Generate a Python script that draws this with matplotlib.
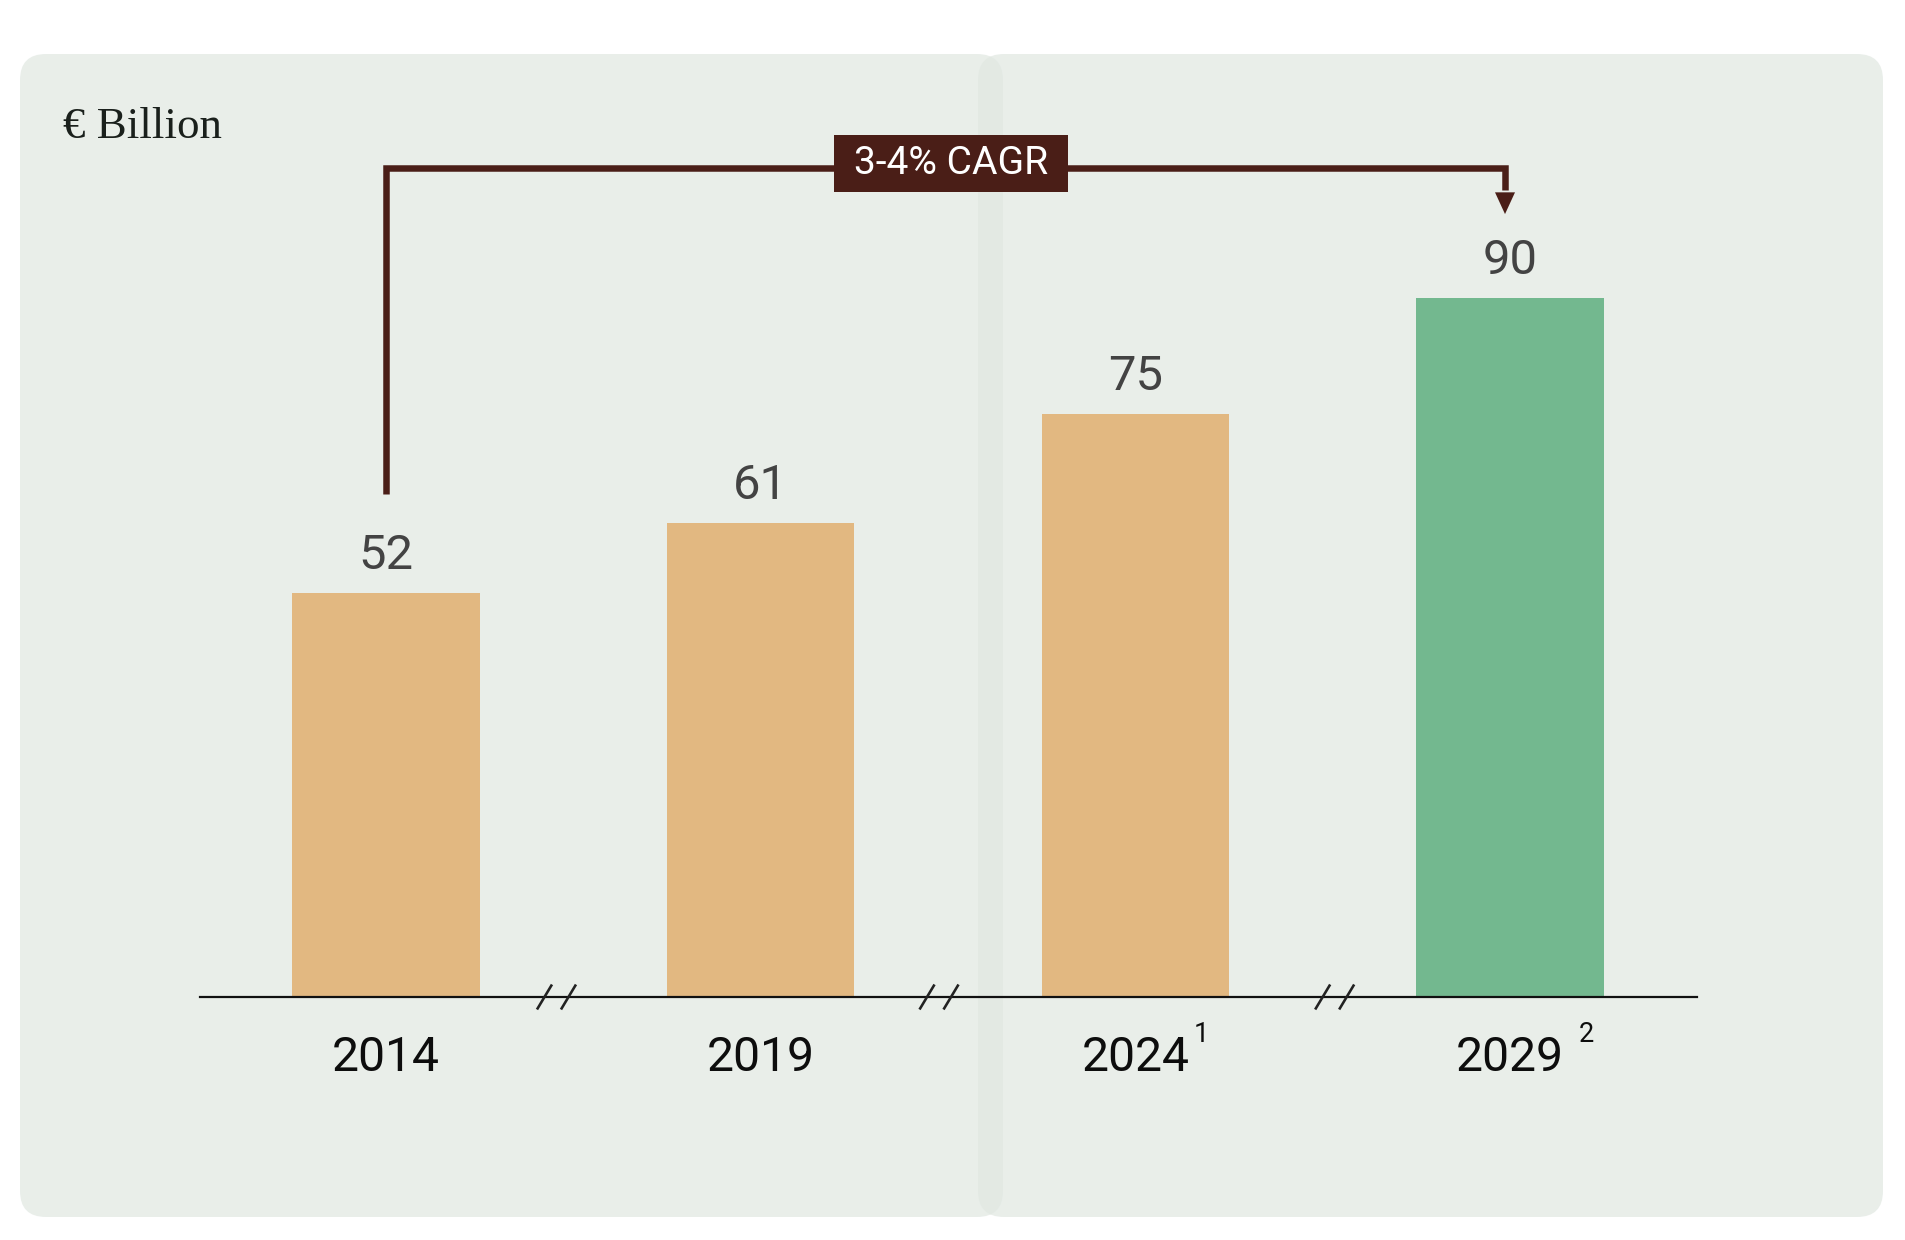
import matplotlib
matplotlib.use("Agg")
import matplotlib.pyplot as plt
from matplotlib.patches import FancyBboxPatch, Rectangle, Polygon

# ---- data ----
years = ["2014", "2019", "2024", "2029"]
values = [52, 61, 75, 90]
superscripts = ["", "", "1", "2"]
bar_colors = ["#e2b881", "#e2b881", "#e2b881", "#73b88f"]
unit_label = "€ Billion"
cagr_label = "3-4% CAGR"
break_positions = [0.455, 1.476, 2.532]   # axis-break marks between bars (x data units)

# ---- figure geometry (pixels) ----
W, H = 1906, 1240
DPI = 100
PX = 72.0 / DPI  # points per pixel

fig = plt.figure(figsize=(W / DPI, H / DPI), dpi=DPI)
fig.patch.set_facecolor("white")

# background canvas in pixel coordinates
bg = fig.add_axes([0, 0, 1, 1], zorder=0)
bg.set_xlim(0, W)
bg.set_ylim(H, 0)
bg.axis("off")

card_rgba = (224.9 / 255, 231.7 / 255, 226.2 / 255, 0.73)
for (x0, x1) in [(20, 1003), (978, 1883)]:
    bg.add_patch(FancyBboxPatch((x0, 54), x1 - x0, 1217 - 54,
                                boxstyle="round,pad=0,rounding_size=26",
                                fc=card_rgba, ec="none"))

bg.text(63, 138, unit_label, ha="left", va="baseline",
        family=["Liberation Serif", "DejaVu Serif"], fontsize=45 * PX, color="#1a201c")

# ---- main bar axes ----
px_per_unit = 7.767
x_spacing = 374.67
x_center0 = 386
axis_left, axis_right, axis_bottom = 200, 1697, 997
ymax = 115
ax = fig.add_axes([axis_left / W, (H - axis_bottom) / H,
                   (axis_right - axis_left) / W, ymax * px_per_unit / H], zorder=2)
ax.patch.set_alpha(0)
ax.set_xlim((axis_left - x_center0) / x_spacing, (axis_right - x_center0) / x_spacing)
ax.set_ylim(0, ymax)
for s in ["top", "right", "left"]:
    ax.spines[s].set_visible(False)
ax.spines["bottom"].set_linewidth(2.2 * PX)
ax.spines["bottom"].set_color("#111111")
ax.set_xticks([])
ax.set_yticks([])

xs = list(range(len(years)))
ax.bar(xs, values, width=0.5, color=bar_colors, zorder=2)

num_font = "Roboto"
for i, (v, yr, sup) in enumerate(zip(values, years, superscripts)):
    ax.annotate(str(v), (i, v), xytext=(0, 24 * PX), textcoords="offset points",
                ha="center", va="baseline", family=num_font, fontsize=49 * PX,
                color="#434343")
    ax.annotate(yr, (i, 0), xytext=(0, -74 * PX), textcoords="offset points",
                ha="center", va="baseline", family=num_font, fontsize=48 * PX,
                color="#0d0d0d", annotation_clip=False)

sup_offsets = [0, 0, 58, 69]
for i, sup in enumerate(superscripts):
    if sup:
        ax.annotate(sup, (i, 0), xytext=(sup_offsets[i] * PX, -45 * PX),
                    textcoords="offset points", ha="left", va="baseline",
                    family=num_font, fontsize=27 * PX, color="#0d0d0d",
                    annotation_clip=False)

# axis-break marks "//"
dx_slash = 15 / x_spacing
dy_slash = 25 / px_per_unit
gap = 24 / x_spacing
for b in break_positions:
    for off in (-gap / 2, gap / 2):
        cx = b + off
        ax.plot([cx - dx_slash / 2, cx + dx_slash / 2],
                [-dy_slash / 2, dy_slash / 2], color="#222222",
                lw=2.6 * PX, clip_on=False, zorder=4, solid_capstyle="butt")

# CAGR connector arrow (from first bar to last bar)
arrow_color = "#4a1e17"
start_y = values[0] + 12.7
top_y = (axis_bottom - 168) / px_per_unit
end_x = len(values) - 1 - 5 / x_spacing
head_base = values[-1] + 13.6
head_tip = values[-1] + 10.8
ax.plot([0, 0, end_x, end_x], [start_y, top_y, top_y, head_base + 0.3],
        color=arrow_color, lw=6.5 * PX, solid_joinstyle="miter",
        solid_capstyle="butt", clip_on=False, zorder=3)
hw = 10 / x_spacing
ax.add_patch(Polygon([[end_x - hw, head_base], [end_x + hw, head_base], [end_x, head_tip]],
                     closed=True, fc=arrow_color, ec="none", zorder=3, clip_on=False))

# ---- overlay for CAGR label box ----
ov = fig.add_axes([0, 0, 1, 1], zorder=5)
ov.set_xlim(0, W)
ov.set_ylim(H, 0)
ov.axis("off")
ov.patch.set_alpha(0)
ov.add_patch(Rectangle((834, 135), 1068 - 834, 192 - 135, fc=arrow_color, ec="none"))
ov.text(951, 164, cagr_label, ha="center", va="center", family=num_font,
        fontsize=39 * PX, fontweight="normal", color="white")

fig.savefig("out.png", dpi=DPI, facecolor="white")
